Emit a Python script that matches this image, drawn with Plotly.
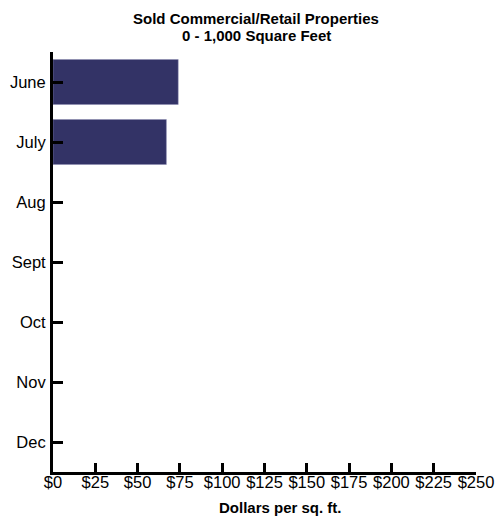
import plotly.graph_objects as go

# data
months = ["June", "July", "Aug", "Sept", "Oct", "Nov", "Dec"]
price_per_sqft = [74, 67, None, None, None, None, None]
tick_vals = [0, 25, 50, 75, 100, 125, 150, 175, 200, 225, 250]
tick_text = ["$" + str(v) for v in tick_vals]

label_font = dict(family="Liberation Sans, Arial, sans-serif", size=16.5, color="black")
title_font = dict(family="Liberation Sans, Arial, sans-serif", size=15, color="black")

fig = go.Figure()
fig.add_trace(go.Bar(
    x=price_per_sqft, y=months, orientation="h",
    marker=dict(color="#333366", line=dict(color="#8a8ab0", width=0.5)),
    hoverinfo="x+y",
))

fig.update_layout(
    width=498, height=516,
    margin=dict(l=53, r=22, t=52, b=44),
    plot_bgcolor="white", paper_bgcolor="white",
    showlegend=False, bargap=0.25,
    xaxis=dict(
        range=[0, 250], tickvals=tick_vals, ticktext=tick_text,
        showgrid=False, zeroline=False, automargin=False,
        showline=True, linecolor="black", linewidth=3,
        ticks="inside", ticklen=9, tickwidth=3, tickcolor="black",
        tickfont=label_font, ticklabelstandoff=-7, fixedrange=True,
    ),
    yaxis=dict(
        range=[6.5, -0.5], showgrid=False, zeroline=False, automargin=False,
        showline=True, linecolor="black", linewidth=3,
        ticks="inside", ticklen=10, tickwidth=3, tickcolor="black",
        tickfont=label_font, ticklabelstandoff=1, fixedrange=True,
    ),
)

fig.add_annotation(
    text="<b>Sold Commercial/Retail Properties</b>",
    xref="paper", yref="paper", x=0.48, y=1.0, yshift=34,
    xanchor="center", yanchor="middle", showarrow=False,
    font=title_font,
)
fig.add_annotation(
    text="<b>0 - 1,000 Square Feet</b>",
    xref="paper", yref="paper", x=0.48, y=1.0, yshift=17,
    xanchor="center", yanchor="middle", showarrow=False,
    font=title_font,
)
fig.add_annotation(
    text="<b>Dollars per sq. ft.</b>",
    xref="paper", yref="paper", x=0.537, y=0, yshift=-35,
    xanchor="center", yanchor="middle", showarrow=False,
    font=title_font,
)

# drop the default body margin so the figure fills the window
fig.write_html("out.html", config={"displayModeBar": False},
               post_script="document.body.style.margin='0';document.body.style.overflow='hidden';")
